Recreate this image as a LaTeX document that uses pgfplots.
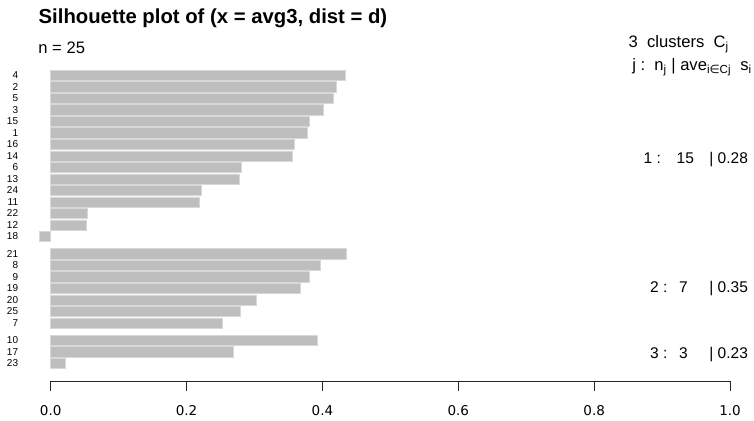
\documentclass[border=0pt]{standalone}
\usepackage{fontspec}
\setmainfont{Liberation Sans}
\newfontfamily\dejavu{DejaVu Sans}
\usepackage{pgfplots}
\pgfplotsset{compat=1.18}
\usepackage{pgfplotstable}
\definecolor{silgray}{HTML}{BEBEBE}
\definecolor{silborder}{HTML}{D8D8D8}

\pgfplotstableread{
name value y
4 0.434 0
2 0.420 -1
5 0.416 -2
3 0.402 -3
15 0.380 -4
1 0.378 -5
16 0.359 -6
14 0.356 -7
6 0.280 -8
13 0.278 -9
24 0.221 -10
11 0.219 -11
22 0.054 -12
12 0.053 -13
18 -0.017 -14
21 0.435 -15.5
8 0.397 -16.5
9 0.381 -17.5
19 0.368 -18.5
20 0.302 -19.5
25 0.279 -20.5
7 0.253 -21.5
10 0.393 -23
17 0.269 -24
23 0.021 -25
}\sil

\pgfplotsset{
  every non boxed x axis/.append style={x axis line style={-}, xtick align=outside},
  every non boxed y axis/.append style={y axis line style={draw=none}},
}

\begin{document}
\begin{tikzpicture}[x=1pt,y=1pt]
\path[draw=none] (0,0) rectangle (754,420);
\begin{axis}[
  at={(50.7pt,39pt)}, anchor=south west,
  scale only axis, width=679.3pt, height=323.5pt,
  xmin=0, xmax=1, ymin=-26.54, ymax=1.54,
  clip=false,
  axis x line*=bottom, axis y line*=left,
  y axis line style={draw=none},
  x axis line style={black!85, line width=0.8pt},
  xtick={0,0.2,0.4,0.6,0.8,1.0},
  xtick align=outside,
  major tick length=9.7pt,
  xtick style={black!85, line width=0.8pt},
  ytick style={draw=none},
  /pgf/number format/.cd, fixed, fixed zerofill, precision=1, assume math mode=true, /pgfplots/.cd,
  xticklabel style={font=\dejavu\fontsize{13.5}{14}\selectfont, inner sep=0pt, anchor=north, yshift=-15pt},
  ytick=data,
  yticklabels from table={\sil}{name},
  yticklabel style={font=\fontsize{10}{11}\selectfont, inner sep=0pt, anchor=east, xshift=-32.4pt},
]
\addplot[xbar, bar width=0.88, bar shift=0pt, fill=silgray, draw=silborder, line width=0.6pt]
  table[x=value, y=y]{\sil};
\end{axis}

\node[anchor=base west, inner sep=0pt, font=\bfseries\fontsize{20.3}{24}\selectfont] at (38.5,396) {Silhouette plot of (x = avg3, dist = d)};
\node[anchor=base west, inner sep=0pt, font=\fontsize{16.6}{20}\selectfont] at (38.2,366.7) {n = 25};

\node[anchor=base west, inner sep=0pt, font=\fontsize{16.6}{20}\selectfont] at (628.5,372) {3\ \ clusters\ \ C\textsubscript{j}};
\node[anchor=base east, inner sep=0pt, font=\fontsize{16.6}{20}\selectfont] at (752,349.3) {j :\ \ n\textsubscript{j} \textbar\ ave\textsubscript{i{\dejavu ∈}Cj}\ \ s\textsubscript{i}};

% cluster summaries
\begin{scope}[every node/.style={inner sep=0pt, font=\fontsize{15.5}{18}\selectfont}]
\node[anchor=base west] at (643.5,256.7) {1 :};
\node[anchor=base west] at (676.5,256.7) {15};
\node[anchor=base] at (711.5,256.7) {\textbar};
\node[anchor=base west] at (717.5,256.7) {0.28};

\node[anchor=base west] at (650,127) {2 :};
\node[anchor=base west] at (679,127) {7};
\node[anchor=base] at (711.5,127) {\textbar};
\node[anchor=base west] at (717.5,127) {0.35};

\node[anchor=base west] at (650,61.7) {3 :};
\node[anchor=base west] at (679,61.7) {3};
\node[anchor=base] at (711.5,61.7) {\textbar};
\node[anchor=base west] at (717.5,61.7) {0.23};
\end{scope}
\end{tikzpicture}
\end{document}
